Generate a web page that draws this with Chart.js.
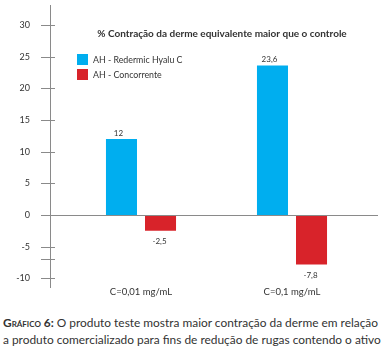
<!DOCTYPE html>
<html>
<head>
<meta charset="utf-8">
<script src="https://cdn.jsdelivr.net/npm/chart.js@4"></script>
<style>
  body { margin: 0; background: #fff; }
  #wrap { position: relative; width: 385px; height: 350px; }
  #chartBox { position: absolute; left: 0; top: 0; width: 385px; height: 310px; }
  #caption { position: absolute; left: 3px; top: 314px; width: 382px; font-family: Lato, sans-serif; font-size: 11.9px; line-height: 17px; color: #333; white-space: nowrap; }
  #caption b { font-variant: small-caps; font-weight: bold; }
</style>
</head>
<body>
<div id="wrap">
  <div id="chartBox"><canvas id="barChart"></canvas></div>
  <div id="caption"><b>Gráfico 6:</b> O produto teste mostra maior contração da derme em relação<br>a produto comercializado para fins de redução de rugas contendo o ativo</div>
</div>
<script>
const categories = ['C=0,01 mg/mL', 'C=0,1 mg/mL'];
const seriesNames = ['AH - Redermic Hyalu C', 'AH - Concorrente'];
const redermicValues = [12, 23.6];
const concorrenteValues = [-2.5, -7.8];
const tickValues = [30, 25, 20, 15, 10, 5, 0, -5, -7, -10];
const tickLabels = ['30', '25', '20', '15', '10', '5', '0', '-5', '', '-10'];
const chartTitle = '% Contração da derme equivalente maior que o controle';

const axisColor = '#8a8a8a';

// axis line, tick marks, zero line, title, legend and value labels
const decorations = {
    id: 'decorations',
    afterDatasetsDraw(chart) {
        const ctx = chart.ctx;
        const y = chart.scales.y;
        const zero = y.getPixelForValue(0);

        ctx.save();
        ctx.strokeStyle = axisColor;
        ctx.lineWidth = 1;
        ctx.beginPath();
        ctx.moveTo(50.5, 5);
        ctx.lineTo(50.5, 288);
        ctx.moveTo(50, Math.round(zero) + 0.5);
        ctx.lineTo(378, Math.round(zero) + 0.5);
        tickValues.forEach(v => {
            const py = Math.round(y.getPixelForValue(v)) + 0.5;
            ctx.moveTo(41, py);
            ctx.lineTo(55, py);
        });
        ctx.stroke();

        ctx.fillStyle = '#333';
        ctx.font = 'bold 10px Lato';
        ctx.textAlign = 'center';
        ctx.textBaseline = 'middle';
        ctx.fillText(chartTitle, 222, 34);

        ctx.font = '8.8px Lato';
        ctx.textAlign = 'left';
        chart.data.datasets.forEach((ds, i) => {
            ctx.fillStyle = ds.backgroundColor;
            ctx.fillRect(77, 54 + i * 15, 11, 11);
            ctx.fillStyle = '#333';
            ctx.fillText(ds.label, 93, 60 + i * 15);
        });

        ctx.font = '8px Lato';
        ctx.textAlign = 'center';
        chart.data.datasets.forEach((ds, i) => {
            chart.getDatasetMeta(i).data.forEach((bar, j) => {
                const v = ds.data[j];
                const txt = String(v).replace('.', ',');
                if (v >= 0) {
                    ctx.fillText(txt, bar.x - 3, bar.y - 6);
                } else {
                    ctx.fillText(txt, bar.x - 1, bar.y + 11);
                }
            });
        });
        ctx.restore();
    }
};

const ctx = document.getElementById('barChart').getContext('2d');
const chart = new Chart(ctx, {
    type: 'bar',
    data: {
        labels: categories,
        datasets: [{
            label: seriesNames[0],
            data: redermicValues,
            backgroundColor: '#00AEEF'
        }, {
            label: seriesNames[1],
            data: concorrenteValues,
            backgroundColor: '#D8232A'
        }]
    },
    options: {
        responsive: true,
        maintainAspectRatio: false,
        animation: false,
        layout: { padding: { top: 12.3, right: 17.5, left: 0, bottom: 0 } },
        datasets: {
            bar: { categoryPercentage: 0.517, barPercentage: 0.795 }
        },
        scales: {
            x: {
                grid: { display: false },
                border: { display: false },
                ticks: { color: '#333', font: { family: 'Lato', size: 9.5 }, padding: -3, maxRotation: 0 },
                afterFit(scale) { scale.height = 28.5; }
            },
            y: {
                min: -10.5,
                max: 32,
                grid: { display: false },
                border: { display: false },
                afterBuildTicks(scale) {
                    scale.ticks = tickValues.map(v => ({ value: v }));
                },
                ticks: {
                    color: '#333',
                    font: { family: 'Lato', size: 9 },
                    padding: 27.5,
                    callback: (value) => tickLabels[tickValues.indexOf(value)]
                },
                afterFit(scale) {
                    scale.width = 65.5;
                    scale.paddingTop = 0;
                    scale.paddingBottom = 0;
                }
            }
        },
        plugins: {
            legend: { display: false },
            tooltip: { enabled: false }
        }
    },
    plugins: [decorations]
});
</script>
</body>
</html>
